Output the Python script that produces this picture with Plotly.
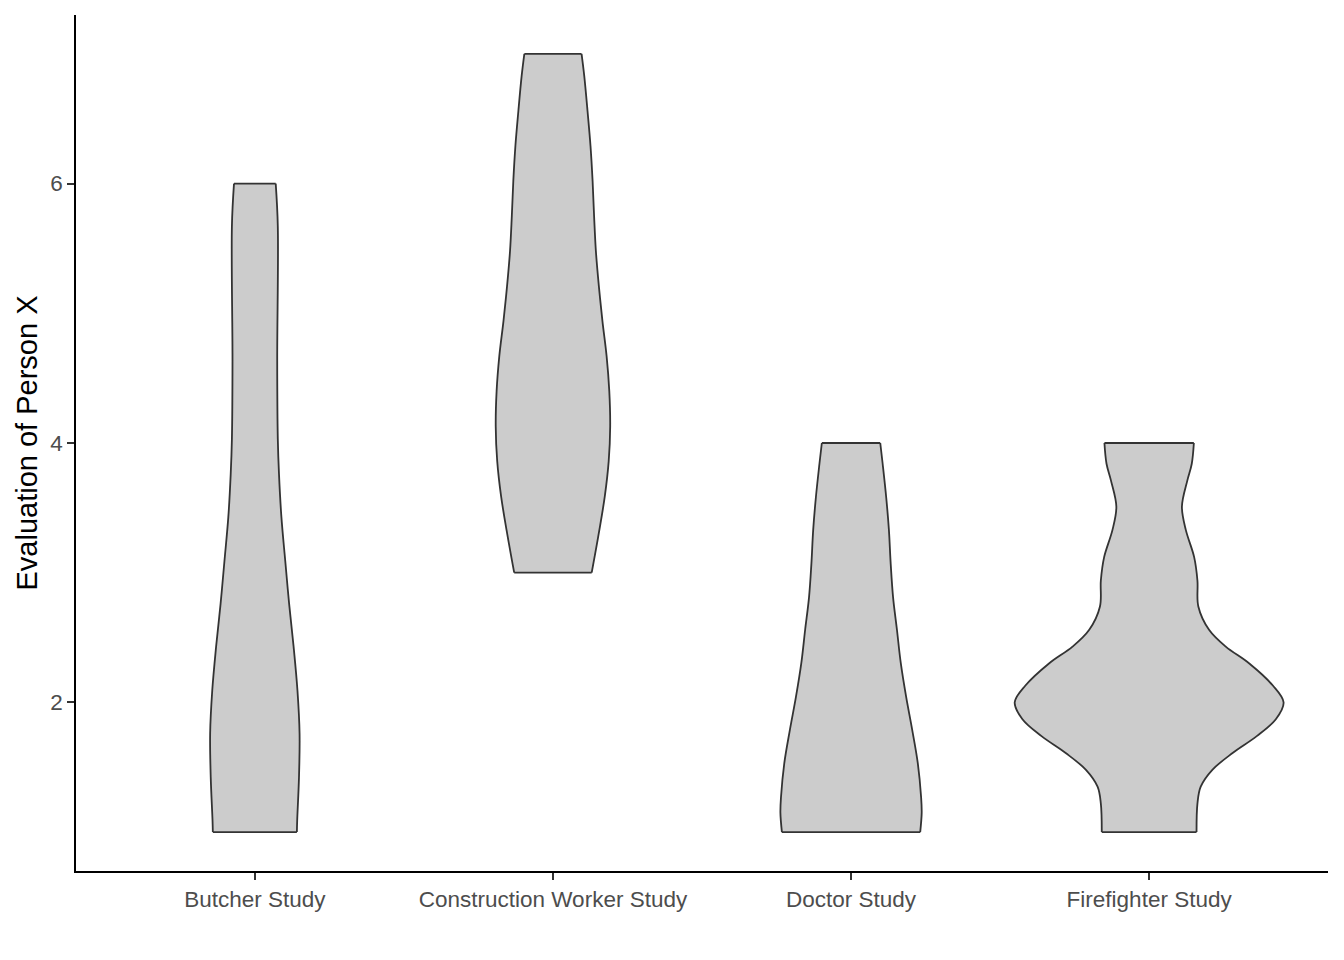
import plotly.graph_objects as go

# Categories and axis ticks
studies = ["Butcher Study", "Construction Worker Study", "Doctor Study", "Firefighter Study"]
y_ticks = [2, 4, 6]

# Violin profiles: evaluation levels and half-widths (category units)
butcher_y = [1.0, 1.09, 1.42, 1.76, 2.09, 2.43, 2.76, 3.09, 3.43, 3.76, 4.03, 4.63, 5.67, 6.0]
butcher_hw = [0.141, 0.142, 0.148, 0.150, 0.143, 0.130, 0.115, 0.102, 0.089, 0.081, 0.077, 0.075, 0.077, 0.070]

construction_y = [3.0, 3.32, 3.59, 3.86, 4.13, 4.40, 4.67, 4.94, 5.21, 5.48, 5.75, 6.02, 6.29, 6.56, 6.83, 7.0]
construction_hw = [0.130, 0.155, 0.174, 0.187, 0.192, 0.189, 0.180, 0.166, 0.154, 0.144, 0.138, 0.133, 0.126, 0.116, 0.105, 0.096]

doctor_y = [1.0, 1.15, 1.27, 1.53, 1.79, 2.04, 2.30, 2.56, 2.81, 3.07, 3.33, 3.58, 3.84, 4.0]
doctor_hw = [0.232, 0.237, 0.235, 0.224, 0.205, 0.185, 0.167, 0.154, 0.141, 0.133, 0.127, 0.118, 0.106, 0.098]

firefighter_y = [1.0, 1.22, 1.35, 1.48, 1.61, 1.74, 1.87, 2.0, 2.13, 2.30, 2.43, 2.56, 2.74, 2.94, 3.12, 3.33, 3.51, 3.71, 3.84, 4.0]
firefighter_hw = [0.159, 0.162, 0.173, 0.212, 0.280, 0.361, 0.425, 0.451, 0.415, 0.336, 0.257, 0.201, 0.165, 0.162, 0.151, 0.123, 0.110, 0.128, 0.143, 0.150]

profiles = [
    (butcher_y, butcher_hw),
    (construction_y, construction_hw),
    (doctor_y, doctor_hw),
    (firefighter_y, firefighter_hw),
]

FILL = "#CCCCCC"
EDGE = "#333333"
FONT = "Liberation Sans, Arial, sans-serif"
LW = 1.8

fig = go.Figure()
for i, (ys, hws) in enumerate(profiles):
    pos = i + 1
    left = [pos - h for h in hws]
    right = [pos + h for h in hws]
    fig.add_trace(go.Scatter(x=left, y=ys, mode="lines",
                             line=dict(color=EDGE, width=LW, shape="spline", smoothing=1),
                             showlegend=False, hoverinfo="skip"))
    fig.add_trace(go.Scatter(x=right, y=ys, mode="lines", fill="tonextx", fillcolor=FILL,
                             line=dict(color=EDGE, width=LW, shape="spline", smoothing=1),
                             showlegend=False, hoverinfo="skip"))
    fig.add_trace(go.Scatter(x=[left[0], right[0], None, left[-1], right[-1]],
                             y=[ys[0], ys[0], None, ys[-1], ys[-1]], mode="lines",
                             line=dict(color=EDGE, width=LW),
                             showlegend=False, hoverinfo="skip"))

fig.update_layout(
    width=1344, height=960,
    margin=dict(l=76, r=16, t=15, b=89),
    paper_bgcolor="white", plot_bgcolor="white",
    font=dict(family=FONT, size=22, color="#4D4D4D"),
    showlegend=False,
)
fig.update_xaxes(
    range=[0.4, 4.6], tickmode="array", tickvals=[1, 2, 3, 4], ticktext=studies,
    showgrid=False, zeroline=False, showline=True, linecolor="black", linewidth=1.6,
    ticks="outside", ticklen=7, tickwidth=1.6, tickcolor=EDGE,
    tickfont=dict(family=FONT, size=22.5, color="#4D4D4D"),
)
fig.update_yaxes(
    range=[0.7, 7.3], tickmode="array", tickvals=y_ticks, ticktext=[str(t) for t in y_ticks],
    showgrid=False, zeroline=False, showline=True, linecolor="black", linewidth=1.6,
    ticks="outside", ticklen=7, tickwidth=1.6, tickcolor=EDGE,
    tickfont=dict(family=FONT, size=22.5, color="#4D4D4D"),
    title=dict(text="Evaluation of Person X", font=dict(family=FONT, size=29, color="black"), standoff=4),
)

fig.write_html("out.html", config={"displayModeBar": False},
               post_script="document.body.style.margin='0';document.body.style.padding='0';")
